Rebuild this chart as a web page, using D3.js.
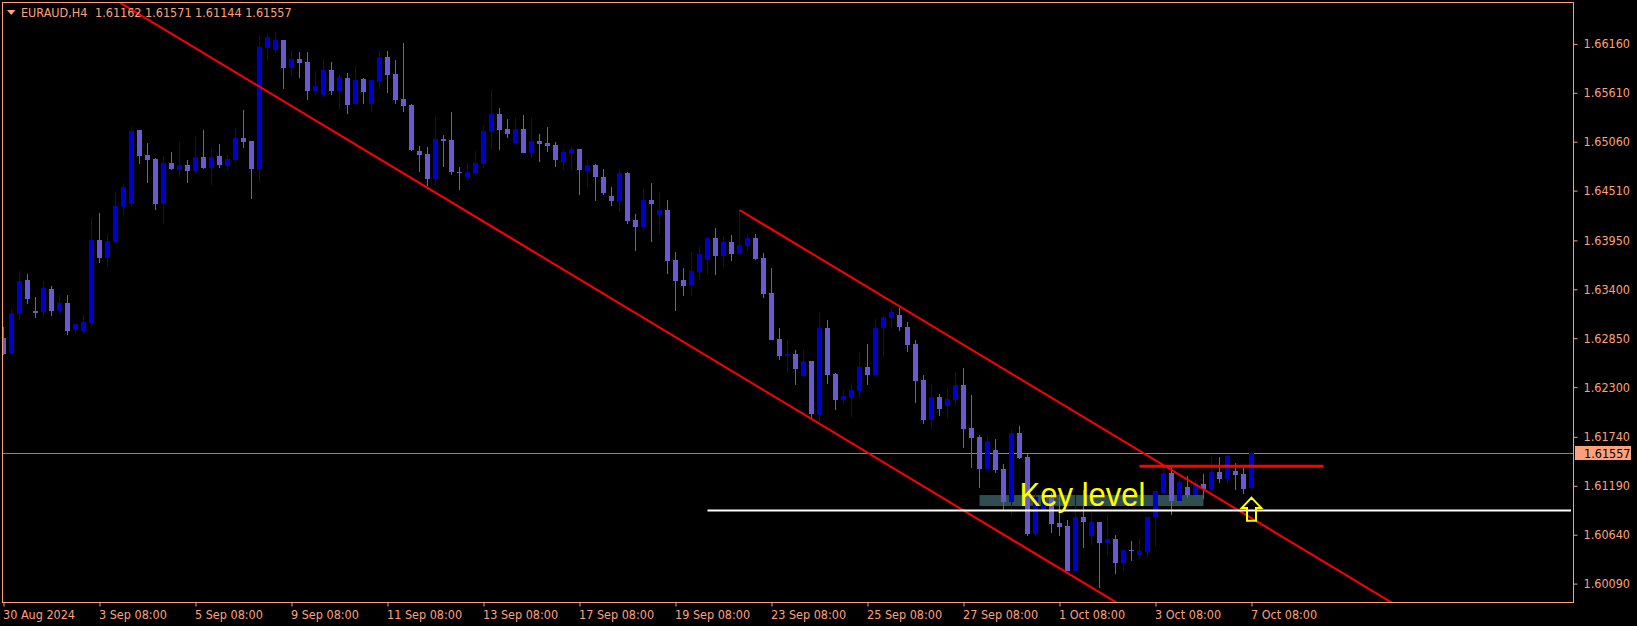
<!DOCTYPE html>
<html><head><meta charset="utf-8">
<script src="https://cdn.jsdelivr.net/npm/d3@7"></script>
<style>
html,body{margin:0;padding:0;background:#000;overflow:hidden}
svg{display:block}
</style></head><body>
<svg id="chart" width="1637" height="626"></svg>
<script>
const symbol = "EURAUD,H4";
const openP = [1.62852,1.62684,1.63126,1.63505,1.63156,1.63148,1.63403,1.63156,1.63246,1.62942,
 1.62931,1.63021,1.63954,1.63752,1.63932,1.64325,1.64359,1.65192,1.64910,1.64865,
 1.64359,1.64820,1.64742,1.64798,1.64731,1.64888,1.64764,1.64899,1.64787,1.64854,
 1.65101,1.65068,1.64753,1.66114,1.66091,1.66204,1.65889,1.65990,1.65956,1.65630,
 1.65585,1.65866,1.65630,1.65776,1.65484,1.65765,1.65484,1.65743,1.66013,1.65821,
 1.65540,1.65473,1.64955,1.64922,1.64640,1.65090,1.65079,1.64719,1.64663,1.64708,
 1.64809,1.65169,1.65372,1.65203,1.65045,1.65203,1.64933,1.65068,1.65045,1.65023,
 1.64832,1.64933,1.64978,1.64731,1.64798,1.64663,1.64449,1.64393,1.64708,1.64179,
 1.64101,1.64404,1.64235,1.64292,1.63730,1.63505,1.63449,1.63595,1.63730,1.63977,
 1.63775,1.63932,1.63797,1.63887,1.63977,1.63752,1.63359,1.62842,1.62650,1.62672,
 1.62425,1.62594,1.61986,1.62965,1.62448,1.62155,1.62177,1.62256,1.62526,1.62436,
 1.62965,1.63077,1.63111,1.62976,1.62785,1.62380,1.61930,1.62189,1.62088,1.62155,
 1.62324,1.61840,1.61739,1.61379,1.61593,1.61379,1.61008,1.61784,1.61514,1.60648,
 1.60918,1.61053,1.60772,1.60738,1.60232,1.60839,1.60625,1.60783,1.60547,1.60592,
 1.60322,1.60468,1.60412,1.60446,1.60839,1.61109,1.61334,1.61019,1.61177,1.61086,
 1.61210,1.61154,1.61345,1.61266,1.61357,1.61323,1.61162];
const highP = [1.62976,1.63178,1.63602,1.63572,1.63313,1.63493,1.63437,1.63336,1.63336,1.63010,
 1.63122,1.64201,1.64258,1.64021,1.64494,1.64584,1.65225,1.65192,1.65045,1.64877,
 1.64899,1.64944,1.65057,1.64854,1.65113,1.65192,1.64978,1.65034,1.64910,1.65214,
 1.65417,1.65068,1.66249,1.66283,1.66294,1.66204,1.66091,1.66069,1.66069,1.65855,
 1.65990,1.65956,1.65821,1.65833,1.65911,1.65776,1.65754,1.66091,1.66080,1.65979,
 1.66170,1.65484,1.65012,1.65000,1.65338,1.65136,1.65394,1.64776,1.64832,1.64955,
 1.65237,1.65641,1.65439,1.65315,1.65327,1.65360,1.65327,1.65147,1.65225,1.65057,
 1.64967,1.65000,1.64978,1.64854,1.64809,1.64753,1.64550,1.64753,1.64719,1.64247,
 1.64528,1.64596,1.64494,1.64404,1.63820,1.63640,1.63820,1.63876,1.63988,1.64089,
 1.64000,1.64011,1.64292,1.64022,1.64022,1.63808,1.63640,1.62965,1.62830,1.62717,
 1.62717,1.62594,1.63133,1.63055,1.62459,1.62267,1.62346,1.62695,1.62785,1.63066,
 1.63100,1.63189,1.63189,1.63032,1.62830,1.62436,1.62335,1.62222,1.62279,1.62470,
 1.62515,1.62211,1.61761,1.61761,1.61716,1.61435,1.61818,1.61863,1.61548,1.61120,
 1.61109,1.61109,1.61098,1.60806,1.61086,1.61143,1.60884,1.60783,1.60873,1.60637,
 1.60468,1.60569,1.60603,1.60839,1.61131,1.61401,1.61401,1.61266,1.61300,1.61266,
 1.61323,1.61514,1.61514,1.61537,1.61446,1.61390,1.61571];
const lowP = [1.62661,1.62676,1.63055,1.63238,1.63081,1.63081,1.63103,1.63126,1.62889,1.62901,
 1.62901,1.62976,1.63696,1.63651,1.63921,1.64235,1.64325,1.64809,1.64596,1.64292,
 1.64134,1.64742,1.64663,1.64596,1.64697,1.64753,1.64573,1.64764,1.64742,1.64832,
 1.64989,1.64416,1.64607,1.65968,1.66058,1.65653,1.65799,1.65776,1.65529,1.65585,
 1.65563,1.65585,1.65417,1.65372,1.65473,1.65484,1.65394,1.65653,1.65608,1.65484,
 1.65394,1.64955,1.64719,1.64562,1.64562,1.64776,1.64686,1.64517,1.64618,1.64674,
 1.64764,1.64967,1.64967,1.65101,1.65045,1.64933,1.64877,1.64832,1.64944,1.64776,
 1.64742,1.64742,1.64461,1.64550,1.64393,1.64461,1.64337,1.64269,1.64134,1.63831,
 1.64056,1.63932,1.64022,1.63572,1.63156,1.63325,1.63325,1.63505,1.63572,1.63561,
 1.63651,1.63719,1.63797,1.63831,1.63730,1.63302,1.62830,1.62605,1.62459,1.62324,
 1.62414,1.61930,1.61910,1.62335,1.62043,1.62110,1.61964,1.62189,1.62324,1.62436,
 1.62639,1.62976,1.62931,1.62695,1.62121,1.61885,1.61829,1.61975,1.61953,1.62088,
 1.61615,1.61390,1.61165,1.61357,1.61334,1.60918,1.60862,1.61491,1.60625,1.60625,
 1.60907,1.60659,1.60625,1.60232,1.60232,1.60490,1.60524,1.60041,1.60412,1.60198,
 1.60232,1.60344,1.60367,1.60378,1.60513,1.61109,1.60862,1.61019,1.61053,1.61086,
 1.61041,1.61154,1.61222,1.61222,1.61143,1.61098,1.61144];
const closeP = [1.62672,1.63133,1.63493,1.63291,1.63133,1.63415,1.63156,1.63246,1.62931,1.63010,
 1.63032,1.63954,1.63752,1.63943,1.64337,1.64550,1.65180,1.64899,1.64854,1.64359,
 1.64820,1.64753,1.64798,1.64731,1.64888,1.64764,1.64888,1.64798,1.64865,1.65101,
 1.65057,1.64753,1.66125,1.66238,1.66204,1.65889,1.65990,1.65945,1.65630,1.65686,
 1.65866,1.65630,1.65788,1.65473,1.65754,1.65619,1.65754,1.66013,1.65810,1.65529,
 1.65461,1.64967,1.64910,1.64640,1.65090,1.65068,1.64719,1.64711,1.64719,1.64820,
 1.65180,1.65372,1.65192,1.65147,1.65203,1.64933,1.65068,1.65034,1.65012,1.64854,
 1.64944,1.64978,1.64742,1.64798,1.64663,1.64483,1.64393,1.64708,1.64168,1.64101,
 1.64404,1.64359,1.64292,1.63719,1.63493,1.63437,1.63606,1.63797,1.63977,1.63775,
 1.63932,1.63797,1.63898,1.63977,1.63741,1.63347,1.62830,1.62650,1.62672,1.62504,
 1.62594,1.61998,1.62965,1.62436,1.62155,1.62200,1.62267,1.62526,1.62436,1.62965,
 1.63088,1.63144,1.62976,1.62774,1.62369,1.61930,1.62189,1.62054,1.62166,1.62324,
 1.61829,1.61728,1.61379,1.61694,1.61368,1.61008,1.61784,1.61503,1.60648,1.61064,
 1.61053,1.60760,1.60727,1.60232,1.60839,1.60783,1.60783,1.60547,1.60592,1.60322,
 1.60468,1.60457,1.60457,1.60839,1.61131,1.61334,1.61019,1.61233,1.61086,1.61210,
 1.61154,1.61345,1.61266,1.61525,1.61311,1.61154,1.61557];

const yTicks = [1.66160,1.65610,1.65060,1.64510,1.63950,1.63400,1.62850,1.62300,1.61740,1.61190,1.60640,1.60090];
const xTickBars = [0,12,24,36,48,60,72,84,96,108,120,132,144,156];
const xTickLabels = ["30 Aug 2024","3 Sep 08:00","5 Sep 08:00","9 Sep 08:00","11 Sep 08:00","13 Sep 08:00",
  "17 Sep 08:00","19 Sep 08:00","23 Sep 08:00","25 Sep 08:00","27 Sep 08:00","1 Oct 08:00","3 Oct 08:00","7 Oct 08:00"];

// drawn objects (bar index, price)
const channelLower = [[75,1.63350],[125,1.60642]];
const channelUpper = [[92,1.64292],[142,1.61584]];
const whiteLevel = [[88,1.60912]];
const redLevel = [[142,1.61409],[165,1.61409]];
const keyZone = [[122,1.61086],[150,1.60962]];
const keyLabel = [[127,1.60965]];
const arrowPoint = [[156,1.61068]];
const bidPrice = closeP[closeP.length-1];

const W = 1637, H = 626;
const plot = {left:2, top:2, right:1573, bottom:602};
const fg = "#FFA07A";
const bullColor = "#0000CD", bearColor = "#6A5ACD";
const fontAxis = "'DejaVu Sans Condensed','DejaVu Sans',sans-serif";

const svg = d3.select("#chart");
svg.append("rect").attr("width",W).attr("height",H).attr("fill","#000");

const x = d3.scaleLinear().domain([0,156]).range([3.5, 3.5+8*156]);
const y = d3.scaleLinear().domain([1.59883,1.66620]).range([602,3]);

svg.append("clipPath").attr("id","clip").append("rect")
  .attr("x",plot.left+1).attr("y",plot.top+1)
  .attr("width",plot.right-plot.left-1).attr("height",plot.bottom-plot.top-1);

const g = svg.append("g").attr("clip-path","url(#clip)");

// key zone rectangle (background)
g.append("rect")
  .attr("x", x(keyZone[0][0])).attr("y", y(keyZone[0][1]))
  .attr("width", x(keyZone[1][0]) - x(keyZone[0][0]))
  .attr("height", y(keyZone[1][1]) - y(keyZone[0][1]))
  .attr("fill","#2F4F4F");

// bid line
g.append("line").attr("x1",plot.left).attr("x2",plot.right)
  .attr("y1",Math.round(y(bidPrice))+0.5).attr("y2",Math.round(y(bidPrice))+0.5)
  .attr("stroke","#778899").attr("stroke-width",1);

const bars = d3.range(openP.length).map(i=>({i,o:openP[i],h:highP[i],l:lowP[i],c:closeP[i]}));
const col = d=> d.c>d.o ? bullColor : bearColor;
g.selectAll("line.wick").data(bars).join("line").attr("class","wick")
  .attr("x1",d=>x(d.i)).attr("x2",d=>x(d.i))
  .attr("y1",d=>y(d.h)).attr("y2",d=>y(d.l))
  .attr("stroke",col).attr("stroke-width",1).attr("shape-rendering","crispEdges");
g.selectAll("rect.body").data(bars).join("rect").attr("class","body")
  .attr("x",d=>x(d.i)-2.5).attr("width",5)
  .attr("y",d=>y(Math.max(d.o,d.c)))
  .attr("height",d=>Math.max(1,Math.abs(y(d.o)-y(d.c))))
  .attr("fill",col).attr("shape-rendering","crispEdges");

// channel lines
function rayPoints(pts, fromBar, toBar){
  const s = (pts[1][1]-pts[0][1])/(pts[1][0]-pts[0][0]);
  const p = b => pts[0][1] + s*(b-pts[0][0]);
  return [[fromBar,p(fromBar)],[toBar,p(toBar)]];
}
const lineGen = d3.line().x(d=>x(d[0])).y(d=>y(d[1]));
g.append("path").attr("d", lineGen(rayPoints(channelLower,-5,220)))
  .attr("stroke","#ff0000").attr("stroke-width",2).attr("fill","none");
g.append("path").attr("d", lineGen(rayPoints(channelUpper,channelUpper[0][0],220)))
  .attr("stroke","#ff0000").attr("stroke-width",2).attr("fill","none");

// white horizontal level
g.append("line").attr("x1",x(whiteLevel[0][0])).attr("x2",plot.right-2)
  .attr("y1",y(whiteLevel[0][1])).attr("y2",y(whiteLevel[0][1]))
  .attr("stroke","#ffffff").attr("stroke-width",2);

// red short horizontal level
g.append("line").attr("x1",x(redLevel[0][0])).attr("x2",x(redLevel[1][0]))
  .attr("y1",y(redLevel[0][1])).attr("y2",y(redLevel[1][1]))
  .attr("stroke","#ff0000").attr("stroke-width",3);

// Key level text
g.append("text").attr("x",x(keyLabel[0][0])).attr("y",y(keyLabel[0][1]))
  .attr("font-family","'Liberation Sans',Arial,sans-serif").attr("font-size",33)
  .attr("textLength",126).attr("lengthAdjust","spacingAndGlyphs")
  .attr("fill","#ffff00").text("Key level");

// up arrow
const ax = x(arrowPoint[0][0]), ay = y(arrowPoint[0][1]);
g.append("path")
  .attr("d","M0,1 L-9.8,11.3 L-4.5,11.3 L-4.5,24 L4.5,24 L4.5,11.3 L9.8,11.3 Z")
  .attr("transform",`translate(${ax},${ay})`)
  .attr("fill","none").attr("stroke","#ffff00").attr("stroke-width",2)
  .attr("stroke-linejoin","miter");

// frame
svg.append("rect").attr("x",plot.left+0.5).attr("y",plot.top+0.5)
  .attr("width",plot.right-plot.left).attr("height",plot.bottom-plot.top)
  .attr("fill","none").attr("stroke",fg).attr("stroke-width",1);

// y axis
const yAxis = svg.append("g").attr("transform",`translate(${plot.right+0.5},0)`)
  .call(d3.axisRight(y).tickValues(yTicks).tickFormat(d3.format(".5f")).tickSize(4).tickPadding(6));
yAxis.select(".domain").remove();
yAxis.selectAll("line").attr("stroke",fg);
yAxis.selectAll("text").attr("fill",fg).attr("font-family",fontAxis).attr("font-size",12.5);

// bid label
const by = y(bidPrice);
svg.append("rect").attr("x",plot.right+2).attr("y",Math.round(by)-7).attr("width",56).attr("height",14).attr("fill",fg);
svg.append("text").attr("x",plot.right+11).attr("y",by).attr("dy","0.35em")
  .attr("font-family",fontAxis).attr("font-size",12.5).attr("fill","#000")
  .text(d3.format(".5f")(bidPrice));

// x axis
const xAxis = svg.append("g").attr("transform",`translate(0,${plot.bottom+0.5})`)
  .call(d3.axisBottom(x).tickValues(xTickBars).tickFormat((d,i)=>xTickLabels[i]).tickSize(4));
xAxis.select(".domain").remove();
xAxis.selectAll("line").attr("stroke",fg);
xAxis.selectAll("text").attr("fill",fg).attr("font-family",fontAxis).attr("font-size",12.5)
  .attr("text-anchor","start").attr("x",-1).attr("y",16).attr("dy",0);

// header
svg.append("path").attr("d","M7,10 L15.5,10 L11.25,15 Z").attr("fill",fg);
const last = closeP.length-1;
svg.append("text").attr("x",21).attr("y",16.5).attr("fill",fg)
  .attr("font-family",fontAxis).attr("font-size",12.5).text(symbol);
svg.append("text").attr("x",95).attr("y",16.5).attr("fill",fg)
  .attr("font-family",fontAxis).attr("font-size",12.5)
  .text([openP[last],highP[last],lowP[last],closeP[last]].map(d3.format(".5f")).join(" "));
</script>
</body></html>
